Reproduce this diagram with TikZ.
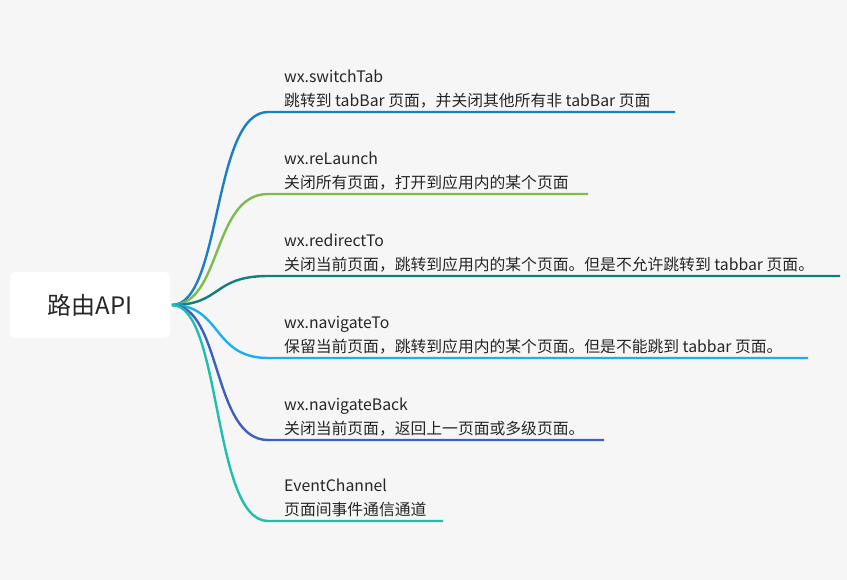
\documentclass[tikz,border=0pt]{standalone}
\usepackage{fontspec}
\setmainfont{Noto Sans CJK SC}
\usetikzlibrary{positioning}
\definecolor{bgc}{HTML}{F6F6F6}
\definecolor{cA}{HTML}{1A7FC4}
\definecolor{cB}{HTML}{7CBC4F}
\definecolor{cC}{HTML}{127F7F}
\definecolor{cD}{HTML}{1AB0F0}
\definecolor{cE}{HTML}{3F5FC0}
\definecolor{cF}{HTML}{1FBFB0}
\begin{document}
\begin{tikzpicture}[
        x=1pt, y=-1pt,
        root/.style = {fill=white, rounded corners=5pt, minimum width=160pt, minimum height=66pt, font=\fontsize{24}{28}\selectfont, text=black!85},
        leaf/.style = {anchor=south west, align=left, inner sep=0pt, font=\fontsize{15.8}{24}\selectfont, text=black!85},
        branch/.style = {line width=2.4pt}
        ]

        \fill[bgc] (0,0) rectangle (847,580);
        \useasboundingbox (0,0) rectangle (847,580);

        % Knoten
        \node[root] (api) at (90,305) {路由API};
        \coordinate (o) at (172,305);

        \foreach \y/\e/\c/\n/\t in {
            112/675/cA/switch/{wx.switchTab\\跳转到 tabBar 页面，并关闭其他所有非 tabBar 页面},
            194/588/cB/relaunch/{wx.reLaunch\\关闭所有页面，打开到应用内的某个页面},
            276/840/cC/redirect/{wx.redirectTo\\关闭当前页面，跳转到应用内的某个页面。但是不允许跳转到 tabbar 页面。},
            358/808/cD/navigate/{wx.navigateTo\\保留当前页面，跳转到应用内的某个页面。但是不能跳到 tabbar 页面。},
            440/604/cE/back/{wx.navigateBack\\关闭当前页面，返回上一页面或多级页面。},
            521/443/cF/channel/{EventChannel\\页面间事件通信通道}} {
            \coordinate (\n-s) at (268,\y);
            \coordinate (\n-e) at (\e,\y);
            \node[leaf] (\n) at (284,\y-4) {\t};
            % Pfeile
            \draw[branch, \c] (o) .. controls (222,305) and (212,\y) .. (\n-s) -- (\n-e);
        }

\end{tikzpicture}
\end{document}
